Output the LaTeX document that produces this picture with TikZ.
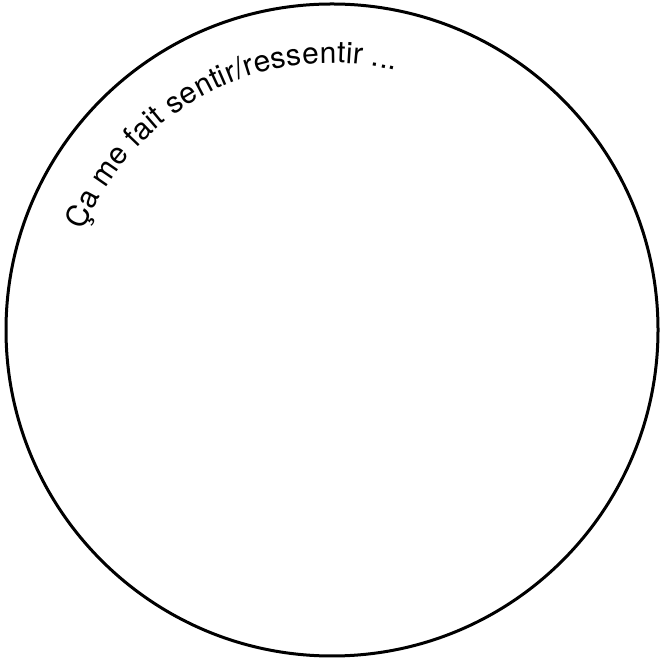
\documentclass[tikz,border=0pt]{standalone}
\usepackage{fontspec}
\setmainfont{TeX Gyre Heros}
\usepackage{tikz}
\usetikzlibrary{decorations.text}

\begin{document}
\begin{tikzpicture}[
  x=1pt, y=1pt,
  disc/.style={draw, circle, line width=3pt, minimum size=652pt, inner sep=0pt},
  arctext/.style={decorate, decoration={text along path, text align={fit to path},
                  text={|\fontsize{30}{34}\selectfont|#1}}},
]
\useasboundingbox (0,0) rectangle (660,660);

%% ---- outer circle ----
\node[disc] (disc) at (332,330) {};

%% ---- text along the upper left rim ----
\path[arctext={Ça me fait sentir/ressentir ...}]
  ([shift={(158.2:267pt)}]disc.center) arc[start angle=158.2, end angle=76.2, radius=267pt];
\end{tikzpicture}
\end{document}
